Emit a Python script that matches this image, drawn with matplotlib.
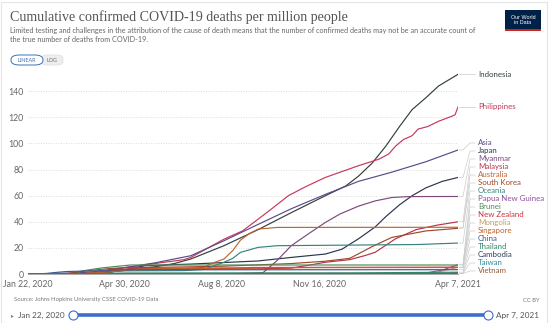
import numpy as np
import pandas as pd
import matplotlib
matplotlib.use('Agg')
import matplotlib.pyplot as plt
import matplotlib.dates as mdates
from matplotlib.patches import FancyBboxPatch, Rectangle
from matplotlib.lines import Line2D

START = pd.Timestamp('2020-01-22')
END = pd.Timestamp('2021-04-07')

# days since Jan 22, 2020 and cumulative confirmed deaths per million
indonesia_d = [0, 45, 55, 70, 85, 100, 130, 150, 167, 201, 236, 270, 305, 326, 339, 353, 367, 381, 394, 408, 421, 441]
indonesia_v = [0, 0, 0.1, 0.7, 1.7, 2.9, 5.5, 8, 11.5, 21.7, 34, 47, 60, 67.5, 75, 85, 98, 113, 126, 135, 144, 153]
philippines_d = [0, 40, 55, 70, 85, 100, 130, 160, 167, 201, 220, 236, 250, 267, 285, 305, 339, 360, 370, 377, 385, 394, 400, 410, 421, 435, 438, 441]
philippines_v = [0, 0, 0.1, 1.0, 3, 5, 8, 11, 12.7, 26.7, 33, 42, 50, 60, 67, 74, 83, 88, 92, 98, 103, 106, 111, 113, 117, 121, 122, 128]
asia_d = [0, 20, 40, 60, 70, 85, 100, 130, 150, 167, 201, 236, 270, 305, 339, 373, 408, 441]
asia_v = [0, 0.3, 0.7, 1.3, 2, 3.5, 5, 8.5, 11.5, 14, 25.5, 38, 50, 61, 71, 78, 86, 95]
japan_d = [0, 40, 60, 80, 100, 120, 150, 167, 236, 270, 305, 322, 339, 356, 367, 381, 394, 408, 425, 441]
japan_v = [0, 0.05, 0.2, 0.8, 3.5, 6.3, 7.2, 7.6, 10, 12.7, 15.3, 19, 27, 36, 44, 53, 60, 66, 71, 74]
myanmar_d = [0, 60, 80, 200, 230, 241, 255, 270, 290, 305, 320, 339, 356, 373, 390, 441]
myanmar_v = [0, 0, 0.1, 0.1, 0.6, 1, 10, 21.7, 32, 39.5, 46, 52, 56, 58.6, 59.3, 59.4]
malaysia_d = [0, 50, 60, 70, 85, 100, 167, 236, 270, 290, 305, 330, 345, 356, 377, 398, 420, 441]
malaysia_v = [0, 0, 0.5, 1.3, 2.5, 3.1, 3.7, 4, 4.5, 7, 9, 11, 14, 16.6, 27, 34, 37.5, 40]
australia_d = [0, 40, 55, 70, 85, 100, 130, 160, 180, 188, 201, 210, 218, 227, 236, 256, 441]
australia_v = [0, 0, 0.2, 0.8, 2.4, 3.6, 4, 4.1, 5, 8, 11.5, 18, 26, 31, 34.4, 35.7, 35.8]
skorea_d = [0, 30, 40, 50, 60, 70, 85, 100, 167, 201, 236, 270, 305, 330, 353, 373, 408, 441]
skorea_v = [0, 0.1, 0.3, 1.5, 2.5, 3.2, 4.3, 4.8, 5.5, 6, 7, 8, 9.8, 12, 21, 28, 33, 35]
oceania_d = [0, 55, 70, 85, 100, 160, 180, 201, 210, 218, 236, 256, 339, 400, 441]
oceania_v = [0, 0.1, 0.6, 1.7, 2.4, 2.6, 3.5, 9, 12, 16.6, 20.4, 21.7, 22.2, 22.6, 23.7]
png_d = [0, 215, 300, 380, 410, 425, 441]
png_v = [0, 0.1, 0.1, 0.3, 1, 3, 7.2]
brunei_d = [0, 50, 55, 75, 105, 441]
brunei_v = [0, 0, 2.3, 4.6, 6.9, 6.9]
nz_d = [0, 65, 75, 90, 110, 130, 210, 230, 441]
nz_v = [0, 0, 0.8, 2.6, 4.2, 4.4, 4.4, 5.0, 5.2]
mongolia_d = [0, 405, 420, 441]
mongolia_v = [0, 0, 1.5, 5.1]
singapore_d = [0, 60, 85, 110, 150, 200, 300, 441]
singapore_v = [0, 0.4, 1.7, 3.7, 4.3, 4.6, 4.9, 5.0]
china_d = [0, 10, 20, 30, 40, 55, 70, 84, 86, 441]
china_v = [0, 0.05, 0.5, 1.3, 1.9, 2.2, 2.4, 2.4, 3.2, 3.3]
thailand_d = [0, 40, 60, 80, 100, 200, 330, 380, 441]
thailand_v = [0, 0, 0.1, 0.5, 0.77, 0.84, 0.86, 1.1, 1.37]
cambodia_d = [0, 370, 400, 420, 441]
cambodia_v = [0, 0, 0.06, 0.15, 0.6]
taiwan_d = [0, 60, 80, 100, 200, 441]
taiwan_v = [0, 0.1, 0.25, 0.27, 0.3, 0.42]
vietnam_d = [0, 190, 200, 220, 441]
vietnam_v = [0, 0, 0.1, 0.36, 0.36]

names = ['Indonesia', 'Philippines', 'Asia', 'Japan', 'Myanmar', 'Malaysia', 'Australia',
         'South Korea', 'Oceania', 'Papua New Guinea', 'Brunei', 'New Zealand', 'Mongolia',
         'Singapore', 'China', 'Thailand', 'Cambodia', 'Taiwan', 'Vietnam']
days = [indonesia_d, philippines_d, asia_d, japan_d, myanmar_d, malaysia_d, australia_d,
        skorea_d, oceania_d, png_d, brunei_d, nz_d, mongolia_d, singapore_d, china_d,
        thailand_d, cambodia_d, taiwan_d, vietnam_d]
values = [indonesia_v, philippines_v, asia_v, japan_v, myanmar_v, malaysia_v, australia_v,
          skorea_v, oceania_v, png_v, brunei_v, nz_v, mongolia_v, singapore_v, china_v,
          thailand_v, cambodia_v, taiwan_v, vietnam_v]
colors = ['#33403a', '#c8385a', '#5b4a8b', '#2c3550', '#7d4a7b', '#b8324b', '#c0662c',
          '#a0482a', '#35847d', '#8e4f9c', '#4c8c5a', '#c9333d', '#bf9a63', '#c06228',
          '#3a5a8f', '#2f8a66', '#2b3d5e', '#2f8c99', '#915a35']

xtick_dates = ['2020-01-22', '2020-04-30', '2020-08-08', '2020-11-16', '2021-04-07']
xtick_labels = ['Jan 22, 2020', 'Apr 30, 2020', 'Aug 8, 2020', 'Nov 16, 2020', 'Apr 7, 2021']
yticks = [0, 20, 40, 60, 80, 100, 120, 140]

W, H = 550, 323
fig = plt.figure(figsize=(W / 100, H / 100), dpi=100)
fig.patch.set_facecolor('white')
plt.rcParams['font.family'] = ['Lato', 'DejaVu Sans']

ax = fig.add_axes([28 / W, 1 - 274 / H, 430 / W, (274 - 70.4) / H])
x0 = mdates.date2num(START)
x1 = mdates.date2num(END)
ax.set_xlim(x0, x1)
ax.set_ylim(0, 156)

for d, v, c in zip(days, values, colors):
    xs = mdates.date2num(START + pd.to_timedelta(d, unit='D'))
    ax.plot(xs, v, color=c, lw=0.85, solid_joinstyle='round', zorder=3)

ax.set_yticks(yticks)
ax.set_yticklabels([str(t) for t in yticks], fontsize=6.3, color='#666666')
ax.set_xticks(mdates.date2num(pd.to_datetime(xtick_dates)))
ax.set_xticklabels(xtick_labels, fontsize=6.3, color='#666666')
ax.tick_params(axis='both', length=0)
ax.tick_params(axis='y', pad=3)
ax.tick_params(axis='x', pad=4)
for s in ['top', 'right', 'left']:
    ax.spines[s].set_visible(False)
ax.spines['bottom'].set_color('#aaaaaa')
ax.spines['bottom'].set_linewidth(0.7)
ax.yaxis.grid(True, linestyle=(0, (1.2, 1.8)), color='#d8d8d8', lw=0.6)
ax.set_axisbelow(True)

# end labels, stacked bottom-up so they do not overlap
px_day = 430 / (x1 - x0)
px_val = (274 - 70.4) / 156
gap = 8 / px_val
ends = [v[-1] for v in values]
order = np.argsort(ends)
label_y = {}
prev = None
for i in order:
    y = max(ends[i], 2.3) if prev is None else max(ends[i], prev + gap)
    label_y[i] = y
    prev = y
for i in range(len(names)):
    xe = x1
    ye = ends[i]
    yl = label_y[i]
    ax.add_line(Line2D([xe + 1.5 / px_day, xe + 5 / px_day, xe + 12 / px_day, xe + 17 / px_day],
                       [ye, ye, yl, yl], color='#cccccc', lw=0.5, clip_on=False))
    ax.text(xe + 20 / px_day, yl, names[i], fontsize=5.7, color=colors[i],
            va='center', ha='left', clip_on=False)

# header
fig.text(10.5 / W, 1 - 17.5 / H, 'Cumulative confirmed COVID-19 deaths per million people',
         family='Liberation Serif', fontsize=10.1, color='#555555', va='center')
fig.text(10.5 / W, 1 - 31 / H,
         'Limited testing and challenges in the attribution of the cause of death means that the number of confirmed deaths may not be an accurate count of',
         fontsize=5.2, color='#666666', va='center')
fig.text(10.5 / W, 1 - 40 / H, 'the true number of deaths from COVID-19.',
         fontsize=5.2, color='#666666', va='center')

# linear / log toggle
fig.patches.append(FancyBboxPatch((41 / W, 1 - 65 / H), 22 / W, 10 / H,
                                  boxstyle='round,pad=0,rounding_size=0.012',
                                  transform=fig.transFigure, fc='#eeeeee', ec='#dddddd', lw=0.5))
fig.patches.append(FancyBboxPatch((11 / W, 1 - 65 / H), 32 / W, 10 / H,
                                  boxstyle='round,pad=0,rounding_size=0.015',
                                  transform=fig.transFigure, fc='white', ec='#3f6fb5', lw=0.7))
fig.text(27 / W, 1 - 60 / H, 'LINEAR', fontsize=3.9, color='#3f6fb5', ha='center', va='center')
fig.text(52 / W, 1 - 60 / H, 'LOG', fontsize=3.9, color='#666666', ha='center', va='center')

# logo
fig.patches.append(Rectangle((505 / W, 1 - 31 / H), 36 / W, 21 / H, transform=fig.transFigure,
                             fc='#002147', ec='none'))
fig.patches.append(Rectangle((505 / W, 1 - 31 / H), 36 / W, 1.6 / H, transform=fig.transFigure,
                             fc='#ce261e', ec='none'))
fig.text(523 / W, 1 - 20 / H, 'Our World\nin Data', fontsize=3.9, color='white',
         ha='center', va='center', linespacing=1.0, family=['Liberation Sans', 'DejaVu Sans'])

# footer
fig.text(14 / W, 1 - 300 / H, 'Source: Johns Hopkins University CSSE COVID-19 Data',
         fontsize=4.2, color='#777777', va='center')
fig.text(540 / W, 1 - 300 / H, 'CC BY', fontsize=4.2, color='#777777', va='center', ha='right')

# timeline slider
fig.text(11 / W, 1 - 316 / H, '\u25b8', fontsize=4, color='#777777', va='center',
         family=['DejaVu Sans'])
fig.text(18 / W, 1 - 315 / H, 'Jan 22, 2020', fontsize=5.9, color='#555555', va='center')
fig.text(496 / W, 1 - 315 / H, 'Apr 7, 2021', fontsize=5.9, color='#555555', va='center')
fig.lines.append(Line2D([73 / W, 488 / W], [1 - 315 / H, 1 - 315 / H], transform=fig.transFigure,
                        color='#3b6fc9', lw=2.6, solid_capstyle='butt'))
for cx in (73, 488):
    fig.lines.append(Line2D([cx / W], [1 - 315 / H], transform=fig.transFigure, marker='o',
                            markersize=6.5, mfc='white', mec='#3b6fc9', mew=0.8))

# frame
fig.patches.append(Rectangle((0.5 / W, 0.5 / H), 546.5 / W, 321 / H, transform=fig.transFigure,
                             fc='none', ec='#e4e4e4', lw=0.8))

fig.savefig('out.png', dpi=100)
